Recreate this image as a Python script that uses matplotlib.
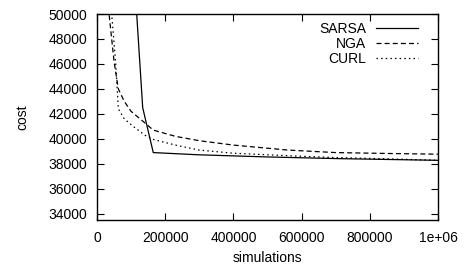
import matplotlib
matplotlib.use("Agg")
import matplotlib.pyplot as plt

plt.rcParams['font.family'] = ['Liberation Sans', 'DejaVu Sans']

sarsa_x = [100000, 134000, 165000, 300000, 500000, 700000, 1000000]
sarsa_y = [57000, 42500, 38900, 38720, 38550, 38420, 38280]

nga_x = [20000, 35000, 50000, 62500, 80000, 100000, 135000, 165000, 230000,
         300000, 400000, 560000, 700000, 850000, 1000000]
nga_y = [56000, 50100, 46200, 44000, 43000, 42200, 41400, 40700, 40200,
         39850, 39500, 39100, 38900, 38830, 38770]

curl_x = [25000, 43000, 55000, 62500, 80000, 106000, 140000, 165000, 230000,
          300000, 400000, 560000, 700000, 850000, 1000000]
curl_y = [60000, 50000, 46000, 42400, 41600, 41000, 40300, 39950, 39500,
          39100, 38850, 38650, 38500, 38400, 38280]

xticks = [0, 200000, 400000, 600000, 800000, 1000000]
xticklabels = ["0", "200000", "400000", "600000", "800000", "1e+06"]
yticks = list(range(34000, 50001, 2000))

fig = plt.figure(figsize=(4.67, 2.69), dpi=100)
ax = fig.add_axes([97/467, 1-220/269, (438-97)/467, (220-14)/269])

ax.plot(sarsa_x, sarsa_y, color='black', lw=0.9, linestyle='-', label='SARSA')
ax.plot(nga_x, nga_y, color='black', lw=0.9, linestyle=(0, (4, 2.5)), label='NGA')
ax.plot(curl_x, curl_y, color='black', lw=0.9, linestyle=(0, (1.2, 2.5)), label='CURL')

ax.set_xlim(0, 1000000)
ax.set_ylim(33500, 50000)
ax.set_xticks(xticks)
ax.set_xticklabels(xticklabels)
ax.set_yticks(yticks)
ax.set_yticklabels([str(v) for v in yticks])
ax.tick_params(direction='in', length=5, width=0.8, top=True, right=True,
               labelsize=10, pad=7, colors='black')
ax.tick_params(axis='x', pad=8)
for s in ax.spines.values():
    s.set_linewidth(1.0)

ax.set_xlabel('simulations', fontsize=10, labelpad=4)
ax.set_ylabel('cost', fontsize=10, labelpad=14)

leg = ax.legend(loc='upper right', frameon=False, fontsize=10, markerfirst=False,
                handlelength=3.0, handletextpad=0.7, labelspacing=0.05,
                borderaxespad=0.2, bbox_to_anchor=(0.965, 1.0))
for t in leg.get_texts():
    t.set_ha('right')

fig.savefig('out.png', dpi=100)
